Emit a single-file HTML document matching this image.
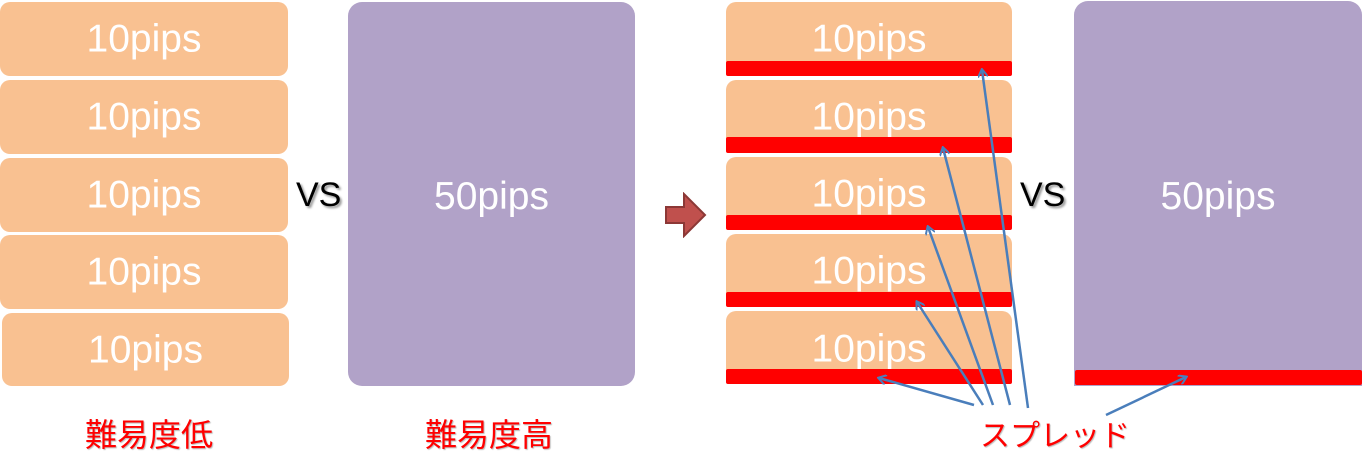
<!DOCTYPE html>
<html><head><meta charset="utf-8"><style>
body{margin:0;width:1362px;height:476px;background:#fff;position:relative;overflow:hidden;font-family:"Liberation Sans","Noto Sans CJK JP",sans-serif}
.b{position:absolute;background:#f9c191;border-radius:10px;color:#fff;font-size:39px;text-align:center;overflow:hidden}
.b span{position:absolute;left:0;right:0;top:50%;transform:translateY(-50%);line-height:1}
.p{position:absolute;background:#b1a2c8;border-radius:14px;color:#fff;font-size:39px;text-align:center;overflow:hidden}
.r{position:absolute;background:#ff0000;border-radius:2px}
.t{position:absolute;font-size:34px;line-height:1}
.l{position:absolute;color:#f00;font-size:32px;line-height:1;text-shadow:1px 1px 1px #bbb}
</style></head><body>
<div class="b" style="left:0;top:2px;width:288px;height:74px"><span>10pips</span></div>
<div class="b" style="left:0;top:80px;width:288px;height:74px"><span>10pips</span></div>
<div class="b" style="left:0;top:158px;width:288px;height:74px"><span>10pips</span></div>
<div class="b" style="left:0;top:235px;width:288px;height:74px"><span>10pips</span></div>
<div class="b" style="left:2px;top:313px;width:287px;height:73px"><span>10pips</span></div>
<div class="t" style="left:296px;top:178px;text-shadow:2px 2px 2px #999">VS</div>
<div class="p" style="left:348px;top:2px;width:287px;height:384px"><span style="position:absolute;left:0;right:0;top:175px;line-height:1">50pips</span></div>
<svg style="position:absolute;left:664px;top:192px" width="44" height="46"><polygon points="2,15 20,15 20,2 41,23 20,44 20,31 2,31" fill="#c0504d" stroke="#8c3836" stroke-width="2"/></svg>

<div class="b" style="left:726px;top:2px;width:286px;height:74px"><span style="top:50%">10pips</span></div>
<div class="b" style="left:726px;top:80px;width:286px;height:73px"><span style="top:50%">10pips</span></div>
<div class="b" style="left:726px;top:157px;width:286px;height:73px"><span style="top:50%">10pips</span></div>
<div class="b" style="left:726px;top:234px;width:286px;height:73px"><span style="top:50%">10pips</span></div>
<div class="b" style="left:726px;top:311px;width:286px;height:73px"><span style="top:52%">10pips</span></div>
<div class="r" style="left:726px;top:61px;width:286px;height:15px"></div>
<div class="r" style="left:726px;top:137px;width:286px;height:16px"></div>
<div class="r" style="left:726px;top:215px;width:286px;height:15px"></div>
<div class="r" style="left:726px;top:292px;width:286px;height:15px"></div>
<div class="r" style="left:726px;top:369px;width:286px;height:15px"></div>
<div class="t" style="left:1020px;top:178px;text-shadow:2px 2px 2px #999">VS</div>
<div class="p" style="left:1074px;top:1px;width:288px;height:385px;border-radius:14px 14px 0 0"><span style="position:absolute;left:0;right:0;top:176px;line-height:1">50pips</span></div>
<div class="r" style="left:1075px;top:370px;width:287px;height:15px"></div>

<svg style="position:absolute;left:0;top:0" width="1362" height="476">
<defs><marker id="a" markerWidth="10" markerHeight="10" refX="8" refY="5" orient="auto" markerUnits="userSpaceOnUse"><path d="M1,0 L9,5 L1,10" fill="none" stroke="#4a7ebb" stroke-width="2"/></marker></defs>
<g stroke="#4a7ebb" stroke-width="2.5" fill="none" marker-end="url(#a)">
<line x1="1028" y1="408" x2="982" y2="70"/>
<line x1="1010" y1="405" x2="943" y2="148"/>
<line x1="993" y1="405" x2="928" y2="227"/>
<line x1="983" y1="405" x2="917" y2="302"/>
<line x1="974" y1="405" x2="879" y2="378"/>
<line x1="1106" y1="415" x2="1186" y2="377"/>
</g></svg>

<div class="l" style="left:85px;top:419px">難易度低</div>
<div class="l" style="left:425px;top:419px">難易度高</div>
<div class="l" style="left:980px;top:422px;font-size:30px">スプレッド</div>
</body></html>
